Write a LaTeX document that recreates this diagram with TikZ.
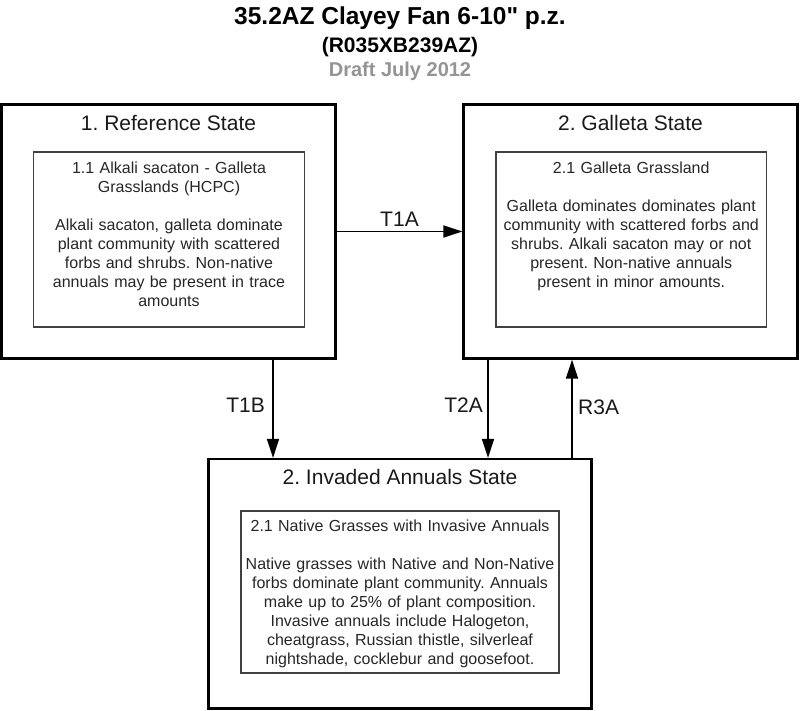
\documentclass[tikz,border=0pt]{standalone}
\usepackage{fontspec}
\setmainfont{Liberation Sans}
\usetikzlibrary{arrows.meta}
\frenchspacing
\begin{document}
\begin{tikzpicture}[x=1pt,y=-1pt,
  statebox/.style={draw=black, line width=2.2pt, inner sep=0pt},
  phasebox/.style={draw=black!75, line width=1.3pt, inner sep=0pt},
  statetitle/.style={anchor=base, inner sep=0pt, text=black!90, font=\fontsize{21}{25}\selectfont},
  phasetext/.style={anchor=base, inner sep=0pt, align=center, text=black!85, font=\frenchspacing\fontsize{16}{19}\selectfont},
  trans/.style={draw=black, line width=1.8pt, -{Triangle[length=19pt,width=12pt]}},
  tlabel/.style={inner sep=0pt, text=black!90, font=\fontsize{21}{25}\selectfont}
]
\useasboundingbox (0,0) rectangle (800,711);
% headings
\node[anchor=base, inner sep=0pt, font=\bfseries\fontsize{24.5}{28}\selectfont] (title) at (400,25) {35.2AZ Clayey Fan 6-10\textquotedbl{} p.z.};
\node[anchor=base, inner sep=0pt, font=\bfseries\fontsize{21}{25}\selectfont] (sub) at (400,53) {(R035XB239AZ)};
\node[anchor=base, inner sep=0pt, text=black!42, font=\bfseries\fontsize{20}{24}\selectfont] (draft) at (400,77) {Draft July 2012};
% state boxes
\node[statebox, minimum width=334pt, minimum height=254pt] (s1) at (168.5,231.5) {};
\node[statebox, minimum width=334pt, minimum height=254pt] (s2) at (630.5,231.5) {};
\node[statebox, minimum width=383pt, minimum height=249.5pt] (s3) at (400,583.75) {};
\node[statetitle] (s1t) at (168.5,130.5) {1. Reference State};
\node[statetitle] (s2t) at (630.5,130.5) {2. Galleta State};
\node[statetitle] (s3t) at (400,484) {2. Invaded Annuals State};
% phase boxes
\node[phasebox, minimum width=271pt, minimum height=175pt] (p1) at (169,239.5) {};
\node[phasebox, minimum width=270.5pt, minimum height=175pt] (p2) at (631.25,239.5) {};
\node[phasebox, minimum width=318pt, minimum height=162pt] (p3) at (400,592) {};
\node[phasetext, text width=266pt] (p1t) at (169,174) {1.1 Alkali sacaton - Galleta\\Grasslands (HCPC)\\[19pt]Alkali sacaton, galleta dominate\\plant community with scattered\\forbs and shrubs. Non-native\\annuals may be present in trace\\amounts};
\node[phasetext, text width=266pt] (p2t) at (631.25,174) {2.1 Galleta Grassland\\[19pt]Galleta dominates dominates plant\\community with scattered forbs and\\shrubs. Alkali sacaton may or not\\present. Non-native annuals\\present in minor amounts.};
\node[phasetext, text width=314pt] (p3t) at (400,531) {2.1 Native Grasses with Invasive Annuals\\[19pt]Native grasses with Native and Non-Native\\forbs dominate plant community. Annuals\\make up to 25\% of plant composition.\\Invasive annuals include Halogeton,\\cheatgrass, Russian thistle, silverleaf\\nightshade, cocklebur and goosefoot.};
% transitions
\coordinate (xT1B) at (273,0);
\coordinate (xT2A) at (488,0);
\coordinate (xR3A) at (572,0);
\draw[trans] (s1.east) -- (s2.west);
\draw[trans] (s1.south -| xT1B) -- (s3.north -| xT1B);
\draw[trans] (s2.south -| xT2A) -- (s3.north -| xT2A);
\draw[trans] (s3.north -| xR3A) -- (s2.south -| xR3A);
\node[tlabel, anchor=base] (lT1A) at (399.5,227) {T1A};
\node[tlabel, anchor=base east] (lT1B) at (265,412) {T1B};
\node[tlabel, anchor=base east] (lT2A) at (483,412) {T2A};
\node[tlabel, anchor=base west] (lR3A) at (578,414) {R3A};
\end{tikzpicture}
\end{document}
